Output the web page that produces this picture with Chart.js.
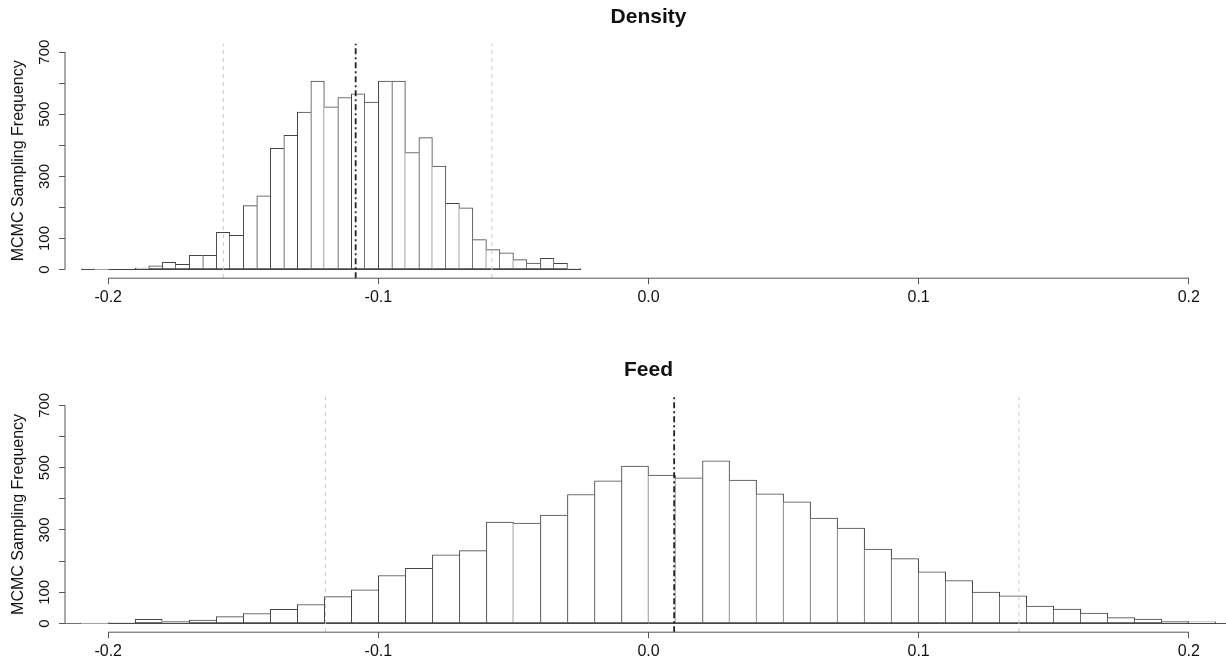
<!DOCTYPE html>
<html>
<head>
<meta charset="utf-8">
<script src="https://cdn.jsdelivr.net/npm/chart.js@4.4.1/dist/chart.umd.min.js"></script>
<style>
  html, body { margin: 0; padding: 0; background: #fff; overflow: hidden; }
  #wrap { position: relative; width: 1226px; height: 661px; overflow: hidden; }
  canvas { position: absolute; left: 0; }
  #density { top: 0; }
  #feed { top: 330px; }
</style>
</head>
<body>
<div id="wrap">
  <canvas id="density" width="1232" height="330"></canvas>
  <canvas id="feed" width="1232" height="331"></canvas>
</div>
<script>
// axis ticks shared by both panels
var xTickValues = [-0.2, -0.1, 0.0, 0.1, 0.2];
var yTickValues = [0, 100, 200, 300, 400, 500, 600, 700];
var yTickLabels = [0, 100, 300, 500, 700];
var xRange = [-0.216, 0.216];
var yRange = [-28, 728];

// Density: bins of 0.005 starting at -0.21
var densityBinStart = -0.21;
var densityBinWidth = 0.005;
var densityCounts = [2, 0, 0, 0, 5, 12, 23, 17, 46, 46, 120, 110, 206, 237, 390, 432,
    507, 607, 524, 554, 566, 539, 607, 607, 377, 425, 333, 213, 199, 96, 64, 54,
    32, 21, 36, 20, 3];
var densityInterval = [-0.1574, -0.0580];
var densityMean = -0.1084;

// Feed: bins of 0.01 starting at -0.22
var feedBinStart = -0.22;
var feedBinWidth = 0.01;
var feedCounts = [1, 0, 3, 13, 7, 11, 22, 32, 45, 61, 86, 108, 154, 177, 220, 234,
    325, 322, 348, 414, 458, 505, 476, 467, 522, 460, 416, 390, 338, 306, 239, 208,
    166, 138, 101, 89, 56, 46, 33, 19, 14, 6, 5, 2];
var feedInterval = [-0.1196, 0.1371];
var feedMean = 0.0095;

Chart.defaults.font.family = "'Liberation Sans', Arial, Helvetica, sans-serif";
Chart.defaults.color = '#111';

// R draws its axis lines only between the first and last tick
var rAxes = {
    id: 'rAxes',
    afterDraw: function (chart) {
        var ctx = chart.ctx;
        var xs = chart.scales.x;
        var ys = chart.scales.y;
        var area = chart.chartArea;
        ctx.save();
        ctx.strokeStyle = '#555';
        ctx.lineWidth = 1;
        ctx.beginPath();
        ctx.moveTo(xs.getPixelForValue(xTickValues[0]), area.bottom);
        ctx.lineTo(xs.getPixelForValue(xTickValues[xTickValues.length - 1]), area.bottom);
        ctx.moveTo(area.left, ys.getPixelForValue(yTickValues[0]));
        ctx.lineTo(area.left, ys.getPixelForValue(yTickValues[yTickValues.length - 1]));
        ctx.stroke();
        ctx.restore();
    }
};

function vline(x, color, dash, width) {
    return {
        type: 'line',
        data: [{x: x, y: yRange[0]}, {x: x, y: yRange[1]}],
        borderColor: color,
        borderWidth: width,
        borderDash: dash,
        pointRadius: 0,
        order: 0
    };
}

function makeHist(id, title, binStart, binWidth, counts, interval, mean, pad) {
    var points = counts.map(function (c, i) {
        return {x: binStart + binWidth * (i + 0.5), y: c};
    });
    var firstEdge = binStart;
    var lastEdge = binStart + binWidth * counts.length;
    return new Chart(document.getElementById(id).getContext('2d'), {
        type: 'bar',
        data: {
            datasets: [
                {
                    type: 'bar',
                    data: points,
                    backgroundColor: '#fff',
                    borderColor: '#444',
                    borderSkipped: false,
                    borderWidth: function (c) {
                        var i = c.dataIndex;
                        var v = counts[i];
                        var prev = i > 0 ? counts[i - 1] : 0;
                        var next = i < counts.length - 1 ? counts[i + 1] : 0;
                        return {top: 1, bottom: 1, left: prev <= v ? 1 : 0, right: next < v ? 1 : 0};
                    },
                    barPercentage: 1,
                    categoryPercentage: 1,
                    order: 1
                },
                {
                    type: 'line',
                    data: [{x: firstEdge, y: 0}, {x: lastEdge, y: 0}],
                    borderColor: '#444',
                    borderWidth: 1,
                    pointRadius: 0,
                    order: 2
                },
                vline(interval[0], '#c8c8c8', [4, 4], 1),
                vline(interval[1], '#c8c8c8', [4, 4], 1),
                vline(mean, '#222', [6, 3, 2, 3], 1.8)
            ]
        },
        options: {
            responsive: false,
            animation: false,
            layout: {padding: 0},
            plugins: {
                legend: {display: false},
                tooltip: {enabled: false},
                title: {
                    display: true,
                    text: title,
                    fullSize: false,
                    color: '#111',
                    font: {size: 21, weight: 'bold', lineHeight: 1.2},
                    padding: {top: pad.titleTop, bottom: pad.titleBottom}
                }
            },
            scales: {
                x: {
                    type: 'linear',
                    offset: false,
                    min: xRange[0],
                    max: xRange[1],
                    afterBuildTicks: function (s) {
                        s.ticks = xTickValues.map(function (v) { return {value: v}; });
                    },
                    afterFit: function (s) { s.height = pad.xAxis; },
                    border: {display: false},
                    grid: {offset: false, drawOnChartArea: false, drawTicks: true, tickLength: 6, color: '#555'},
                    ticks: {
                        autoSkip: false,
                        maxRotation: 0,
                        padding: 4,
                        color: '#111',
                        font: {size: 16},
                        callback: function (v) { return Number(v).toFixed(1); }
                    }
                },
                y: {
                    min: yRange[0],
                    max: yRange[1],
                    afterBuildTicks: function (s) {
                        s.ticks = yTickValues.map(function (v) { return {value: v}; });
                    },
                    afterFit: function (s) { s.width = 65; },
                    border: {display: false},
                    grid: {drawOnChartArea: false, drawTicks: true, tickLength: 6, color: '#555'},
                    ticks: {
                        autoSkip: false,
                        minRotation: 90,
                        maxRotation: 90,
                        crossAlign: 'center',
                        padding: 2,
                        color: '#111',
                        font: {size: 15},
                        callback: function (v) { return yTickLabels.indexOf(v) >= 0 ? String(v) : ''; }
                    },
                    title: {
                        display: true,
                        text: 'MCMC Sampling Frequency',
                        color: '#111',
                        font: {size: 16},
                        padding: {top: 9.4, bottom: 0}
                    }
                }
            }
        },
        plugins: [rAxes]
    });
}

makeHist('density', 'Density', densityBinStart, densityBinWidth, densityCounts,
    densityInterval, densityMean, {titleTop: 4.9, titleBottom: 13.4, xAxis: 51.8});
makeHist('feed', 'Feed', feedBinStart, feedBinWidth, feedCounts,
    feedInterval, feedMean, {titleTop: 28.1, titleBottom: 13.3, xAxis: 28.8});
</script>
</body>
</html>
